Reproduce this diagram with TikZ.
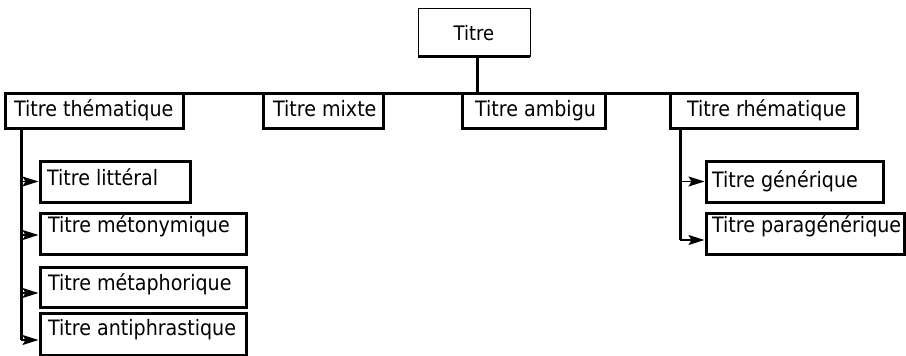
\documentclass[tikz,border=0pt]{standalone}
\usepackage{fontspec}
\setmainfont{DejaVu Sans}[FakeStretch=0.9]
\usetikzlibrary{arrows.meta,calc}
\newcommand\mybox[8]{%
  \node[bx, minimum width=#4-#2, minimum height=#5-#3] (#1) at (#2,#3) {};
  \node[lbl] (#1-t) at ($(#1.north west)+(#6,#7)$) {#8};}
\begin{document}
\begin{tikzpicture}[x=1pt,y=-1pt,
  bx/.style={draw, line width=3pt, rectangle, anchor=north west, inner sep=0pt, outer sep=0pt},
  lbl/.style={anchor=base west, inner sep=0pt, outer sep=0pt, font=\fontsize{21.2}{25}\selectfont},
  conn/.style={line width=3pt},
  arr/.style={line width=1.5pt, -{Stealth[length=16pt,width=10pt,inset=3pt]}, shorten >=1.5pt}]
\useasboundingbox (0,0) rectangle (906,356);
% top box
\node[draw, line width=1pt, rectangle, anchor=north west, inner sep=0pt, outer sep=0pt,
      minimum width=112pt, minimum height=48pt] (titre) at (418,8) {};
\node[anchor=base, inner sep=0pt, font=\fontsize{20}{23}\selectfont] (titre-t) at ($(titre.north)+(0,33)$) {Titre};
\draw[conn] (titre.south west) -- (titre.south east);
% level 1
\mybox{thema}{5}{93}{183}{128}{9}{23}{Titre thématique}
\mybox{mixte}{263}{93}{383}{128}{10}{23}{Titre mixte}
\mybox{ambigu}{462}{93}{605}{128}{13}{23}{Titre ambigu}
\mybox{rhema}{670}{93}{857}{128}{17}{23}{Titre rhématique}
% level 2 left
\mybox{lit}{40}{161}{190}{202}{7}{24}{Titre littéral}
\mybox{meto}{40}{213}{246}{254}{8}{19}{Titre métonymique}
\mybox{meta}{40}{267}{246}{307}{8}{23}{Titre métaphorique}
\mybox{anti}{40}{313}{246}{355}{8}{22}{Titre antiphrastique}
% level 2 right
\mybox{gen}{706}{161}{883}{202}{6}{26}{Titre générique}
\mybox{para}{706}{213}{904}{254}{6}{19}{Titre paragénérique}
% connectors
\draw[conn] ([xshift=3pt]titre.south) -- ([xshift=3pt]titre.south |- thema.north);
\draw[conn] (thema.north west) -- (rhema.north east);
\coordinate (tv) at ($(thema.south west)+(16,0)$);
\coordinate (tvend) at ($(tv)+(0,212)$);
\draw[conn] (tv) -- (tvend);
\draw[arr] (tv |- lit.west) -- (lit.west);
\draw[arr] ($(tv |- meto.west)+(0,1.5)$) -- ($(meto.west)+(0,1.5)$);
\draw[arr] ($(tv |- meta.west)+(0,6)$) -- ($(meta.west)+(0,6)$);
\draw[arr] ($(tv |- anti.west)+(0,6)$) -- ($(anti.west)+(0,6)$);
\coordinate (rv) at ($(rhema.south west)+(10,0)$);
\coordinate (rvend) at ($(rv)+(0,112)$);
\draw[conn] (rv) -- (rvend);
\draw[arr] (rv |- gen.west) -- (gen.west);
\draw[arr] ($(rv |- para.west)+(0,6.5)$) -- ($(para.west)+(0,6.5)$);
\end{tikzpicture}
\end{document}
